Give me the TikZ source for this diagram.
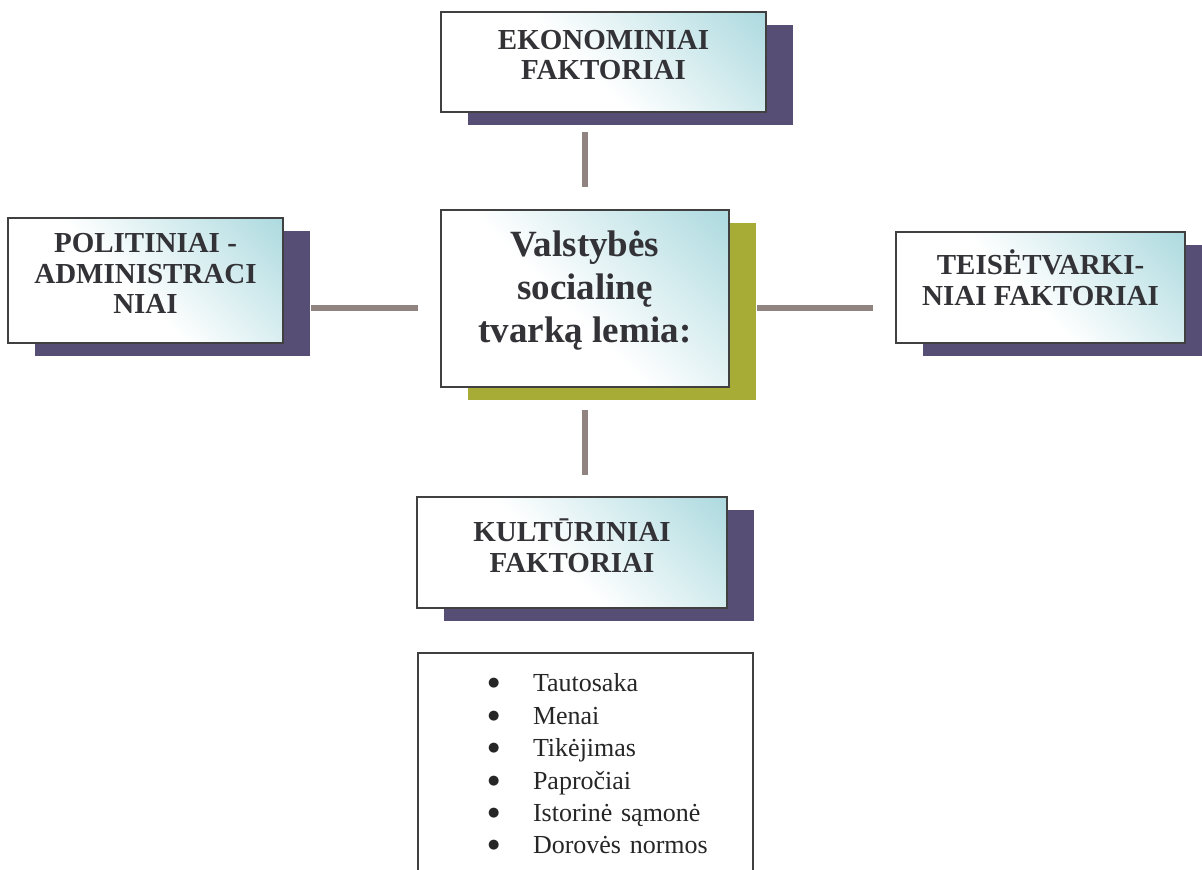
\documentclass[tikz,border=0pt]{standalone}
\usepackage{fontspec}
\setmainfont{Liberation Serif}
\newfontfamily\kulkos{DejaVu Sans}
\usetikzlibrary{shadows}
\definecolor{boxteal}{RGB}{175,219,224}
\definecolor{shadowpurple}{RGB}{86,78,117}
\definecolor{shadowolive}{RGB}{166,172,54}
\definecolor{framegray}{RGB}{64,64,64}
\definecolor{linkbrown}{RGB}{145,131,127}
\definecolor{textgray}{RGB}{50,50,55}
\pgfdeclarehorizontalshading{boxshade}{100bp}{color(0bp)=(white); color(46bp)=(white); color(84bp)=(boxteal); color(100bp)=(boxteal)}
\tikzstyle{box} = [rectangle, draw=framegray, line width=2pt, shade, shading=boxshade,
    shading angle=45, text=textgray, align=center, inner sep=0pt]
\tikzstyle{factor} = [box, font=\bfseries\fontsize{29}{30.5}\selectfont, text depth=14pt,
    drop shadow={shadow xshift=27pt, shadow yshift=-13pt, fill=shadowpurple, opacity=1}]
\tikzstyle{central} = [box, font=\bfseries\fontsize{37}{43}\selectfont, text depth=24pt,
    drop shadow={shadow xshift=27pt, shadow yshift=-13pt, fill=shadowolive, opacity=1}]
\tikzstyle{listbox} = [rectangle, draw=framegray, line width=2pt, fill=white, inner sep=0pt,
    text width=335pt, align=left, font=\fontsize{26}{32.4}\selectfont, text=black!85]
\tikzstyle{link} = [draw=linkbrown, line width=6pt]
\newcommand{\punktas}[1]{\makebox[115pt][l]{\hspace*{70pt}\raisebox{5pt}{\kulkos\fontsize{13}{13}\selectfont ●}}#1}
\begin{document}
\begin{tikzpicture}[x=1pt, y=1pt]
  \clip (0,0) rectangle (1202,870);
  % Place nodes
  \node [central, minimum width=288pt, minimum height=177pt] (valst) at (585,571.5)
  {Valstybės\\socialinę\\tvarką lemia:};
  \node [factor, above of=valst, node distance=236.5pt, xshift=18.5pt,
  minimum width=325pt, minimum height=100pt] (ekon) {EKONOMINIAI\\FAKTORIAI};
  \node [factor, left of=valst, node distance=439.5pt, yshift=18pt,
  minimum width=275pt, minimum height=125pt] (polit) {POLITINIAI -\\ADMINISTRACI\\NIAI};
  \node [factor, right of=valst, node distance=455.5pt, yshift=11pt, text depth=20pt,
  minimum width=289pt, minimum height=111pt] (teis) {TEISĖTVARKI-\\NIAI FAKTORIAI};
  \node [factor, below of=valst, node distance=254pt, xshift=-13pt,
  minimum width=310pt, minimum height=111pt] (kult) {KULTŪRINIAI\\FAKTORIAI};
  \node [listbox, below of=kult, node distance=211.5pt, xshift=13.5pt,
  minimum height=222pt] (sarasas)
  {\punktas{Tautosaka}\\\punktas{Menai}\\\punktas{Tikėjimas}\\
   \punktas{Papročiai}\\\punktas{Istorinė sąmonė}\\\punktas{Dorovės normos}};
  \coordinate [yshift=-9.5pt] (vakarai) at (valst.west);
  \coordinate [yshift=-9.5pt] (rytai) at (valst.east);
  % Draw edges
  \draw [link, shorten <=19pt, shorten >=22pt] (ekon.south -| valst.north) -- (valst.north);
  \draw [link, shorten <=22pt, shorten >=27pt] (vakarai) -- (vakarai -| polit.east);
  \draw [link, shorten <=27pt, shorten >=22pt] (rytai) -- (rytai -| teis.west);
  \draw [link, shorten <=22pt, shorten >=21pt] (valst.south) -- (valst.south |- kult.north);
\end{tikzpicture}
\end{document}
